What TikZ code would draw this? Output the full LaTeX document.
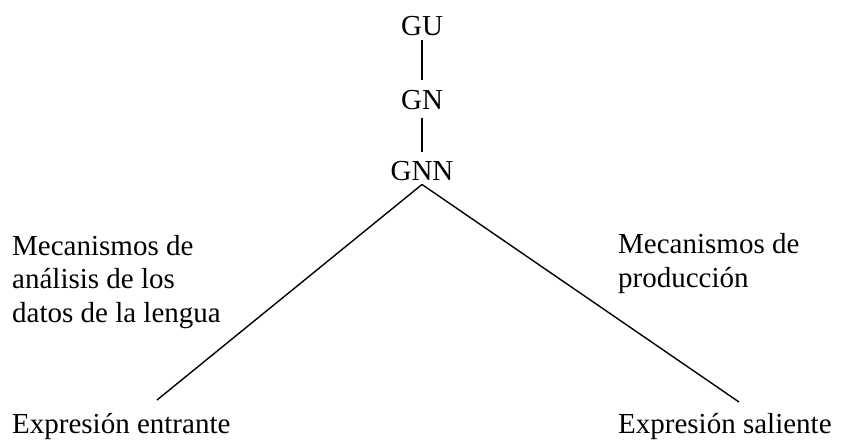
\documentclass[tikz,border=0pt]{standalone}
\usepackage{fontspec}
\setmainfont{Liberation Serif}
\begin{document}
\begin{tikzpicture}[x=1pt,y=-1pt,
  lbl/.style={font=\fontsize{29}{33.5}\selectfont,inner sep=4pt,align=left},
  conn/.style={line width=1.4pt}]
\useasboundingbox (0,0) rectangle (850,441);
\node[lbl,anchor=base] (GU) at (422,36) {GU};
\node[lbl,anchor=base] (GN) at (422,110) {GN};
\node[lbl,anchor=base] (GNN) at (422,180) {GNN};
\node[lbl,anchor=base west,inner sep=0pt] (ML) at (12,322) {Mecanismos de\\análisis de los\\datos de la lengua};
\node[lbl,anchor=base west,inner sep=0pt] (MR) at (618,287) {Mecanismos de\\producción};
\node[lbl,anchor=base west,inner sep=0pt] (EE) at (12,433) {Expresión entrante};
\node[lbl,anchor=base west,inner sep=0pt] (ES) at (618,433) {Expresión saliente};
\coordinate (L) at (157,400);
\coordinate (R) at (739,402);
\draw[conn,shorten >=7pt] (GU.south) -- (GN.north);
\draw[conn,shorten <=4pt,shorten >=5pt] (GN.south) -- (GNN.north);
\draw[conn] (GNN.south) -- (L);
\draw[conn] (GNN.south) -- (R);
\end{tikzpicture}
\end{document}
